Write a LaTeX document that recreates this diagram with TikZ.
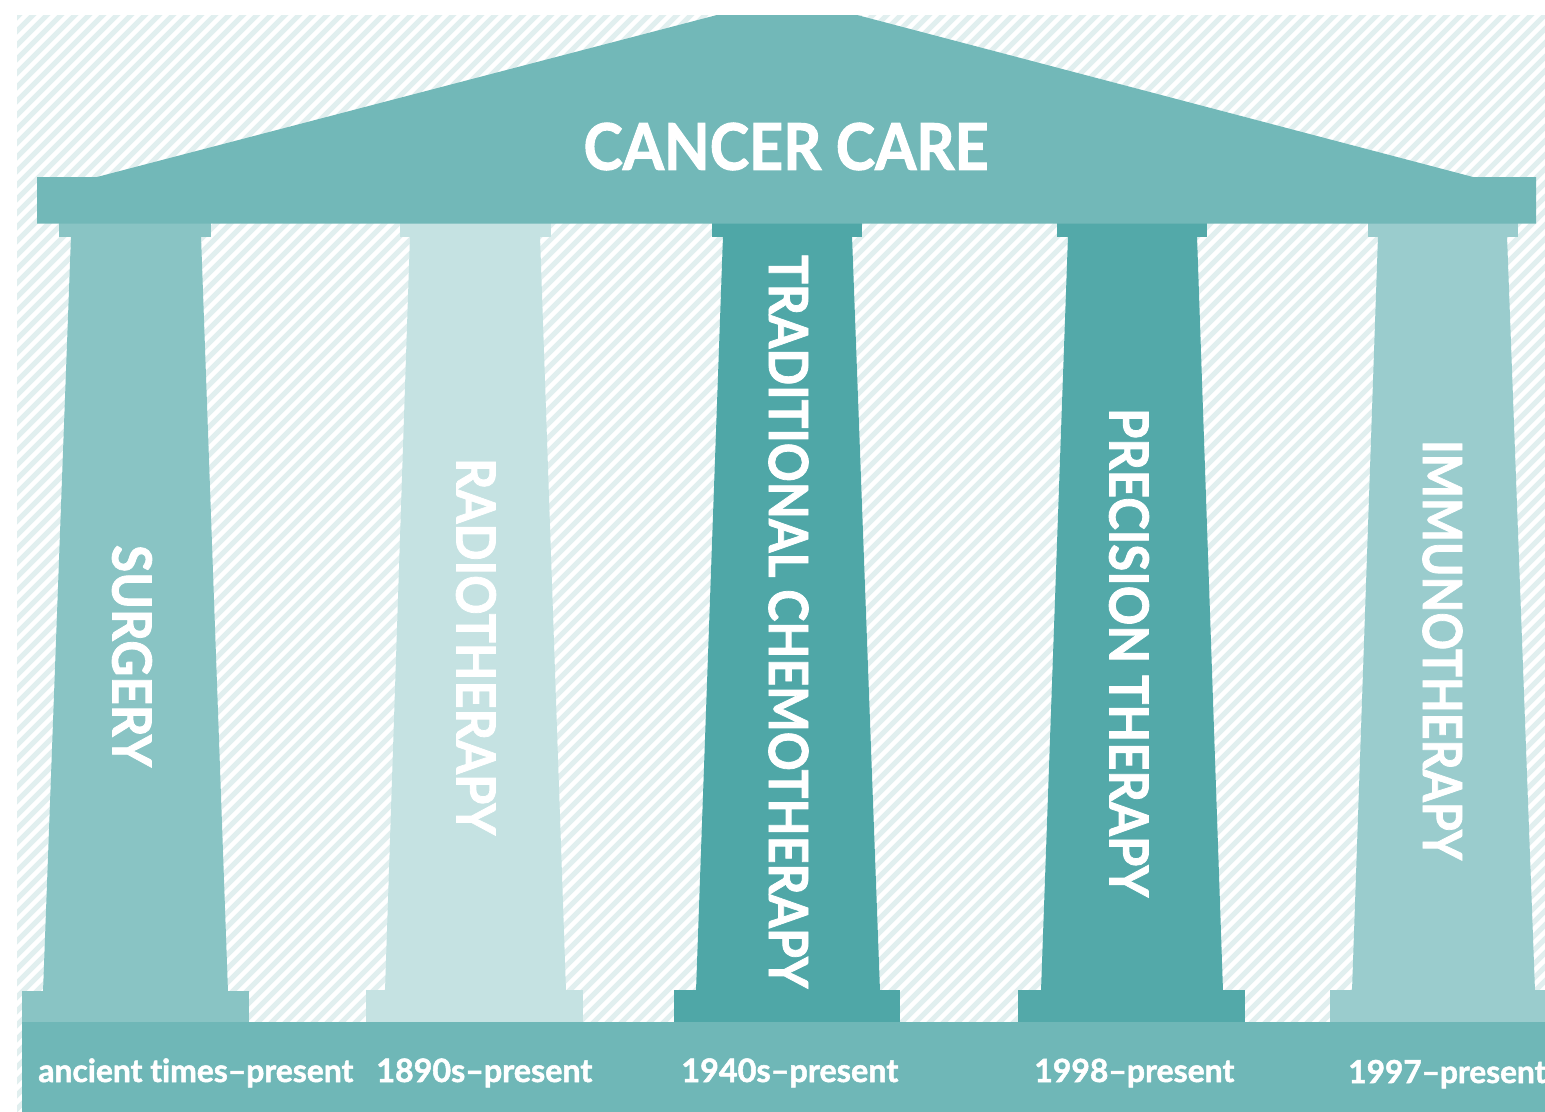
\documentclass[tikz,border=0pt]{standalone}
\usepackage{fontspec}
\setmainfont{Lato}[Ligatures={NoCommon}, BoldFeatures={FakeBold=1.6}]
\usepackage{graphicx}
\definecolor{stripecol}{HTML}{E1EFEF}
\definecolor{roofcol}{HTML}{72B8B8}
\definecolor{basecol}{HTML}{6FB7B7}
\definecolor{surgcol}{HTML}{89C4C4}
\definecolor{radiocol}{HTML}{C5E2E2}
\definecolor{chemocol}{HTML}{4FA7A7}
\definecolor{preccol}{HTML}{53A9A9}
\definecolor{immcol}{HTML}{9ACCCD}
\tikzset{
  stripe/.style={draw=stripecol, line width=2.9pt},
  pillarlabel/.style={text=white, inner sep=0pt, rotate=-90, font=\bfseries},
  datelabel/.style={text=white, inner sep=0pt, anchor=base west, font=\bfseries},
  titlelabel/.style={text=white, inner sep=0pt, font=\bfseries}
}
\begin{document}
\begin{tikzpicture}[x=0.02cm,y=-0.02cm]
\useasboundingbox (0,0) rectangle (1545,1112);
\fill[white] (0,0) rectangle (1545,1112);
% hatched background
\begin{scope}
  \clip (17,15) rectangle (1545,1112);
  \foreach \i in {-82,...,112} {
    \draw[stripe] ({\i*14},1112) -- ++(1112,-1112);
  }
\end{scope}
% surgery
\fill[surgcol] (59,223) rectangle (211,237);
\fill[surgcol] (71,236) -- (201,236) -- (228,992) -- (43,992) -- cycle;
\fill[surgcol] (22,991) rectangle (249,1022);
% radiotherapy
\fill[radiocol] (400,223) rectangle (551,237);
\fill[radiocol] (410,236) -- (540,236) -- (566,991) -- (385,991) -- cycle;
\fill[radiocol] (366,990) rectangle (583,1022);
% chemotherapy
\fill[chemocol] (712,223) rectangle (862,237);
\fill[chemocol] (723,236) -- (852,236) -- (880,991) -- (696,991) -- cycle;
\fill[chemocol] (674,990) rectangle (900,1022);
% precision
\fill[preccol] (1057,223) rectangle (1207,237);
\fill[preccol] (1068,236) -- (1197,236) -- (1223,991) -- (1041,991) -- cycle;
\fill[preccol] (1018,990) rectangle (1245,1022);
% immunotherapy
\fill[immcol] (1368,223) rectangle (1518,237);
\fill[immcol] (1378,236) -- (1507,236) -- (1535,991) -- (1352,991) -- cycle;
\fill[immcol] (1330,990) rectangle (1545,1022);
% base strip
\fill[basecol] (22,1021.5) rectangle (1545,1112);
% roof and entablature
\fill[roofcol] (37,177) -- (97,177) -- (717,15) -- (857,15) -- (1473,177)
  -- (1536,177) -- (1536,223.5) -- (37,223.5) -- cycle;
% title
\node[titlelabel] (title) at (786,146.5) {\resizebox{8.1cm}{0.94cm}{CANCER CARE}};
% pillar labels
\node[pillarlabel] (lsurg) at (132,656) {\resizebox{4.44cm}{0.79cm}{SURGERY}};
\node[pillarlabel] (lradio) at (476,646.5) {\resizebox{7.54cm}{0.79cm}{RADIOTHERAPY}};
\node[pillarlabel] (lchemo) at (788.5,621.5) {\resizebox{14.66cm}{0.79cm}{TRADITIONAL CHEMOTHERAPY}};
\node[pillarlabel] (lprec) at (1129,652.5) {\resizebox{9.78cm}{0.79cm}{PRECISION THERAPY}};
\node[pillarlabel] (limm) at (1442.5,650) {\resizebox{8.4cm}{0.79cm}{IMMUNOTHERAPY}};
% dates
\node[datelabel] (dsurg) at (38,1082) {\resizebox{6.3cm}{!}{ancient times–present}};
\node[datelabel] (dradio) at (376,1082) {\resizebox{4.32cm}{!}{1890s–present}};
\node[datelabel] (dchemo) at (681,1082) {\resizebox{4.34cm}{!}{1940s–present}};
\node[datelabel] (dprec) at (1034,1082) {\resizebox{4.0cm}{!}{1998–present}};
\node[datelabel] (dimm) at (1348,1083) {\resizebox{3.96cm}{!}{1997–present}};
\end{tikzpicture}
\end{document}
